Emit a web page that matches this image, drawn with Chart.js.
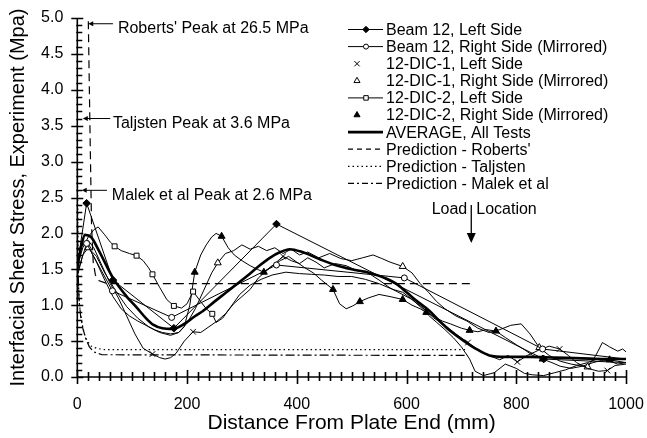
<!DOCTYPE html>
<html>
<head>
<meta charset="utf-8">
<script src="https://cdn.jsdelivr.net/npm/chart.js@4.4.1/dist/chart.umd.min.js"></script>
<style>
  html, body { margin: 0; padding: 0; background: #fff; }
  #wrap { width: 647px; height: 438px; }
</style>
</head>
<body>
<div id="wrap"><canvas id="myChart" width="647" height="438"></canvas></div>
<script>
// distance from plate end (mm) / interfacial shear stress (MPa)
const beam12LeftX = [0, 17, 65, 176, 363, 850, 1000];
const beam12LeftY = [1.55, 2.42, 1.35, 0.68, 2.13, 0.25, 0.2];
const beam12LeftMarks = [17, 65, 176, 363, 850];

const beam12RightX = [0, 17, 64, 172, 363, 596, 848, 1000];
const beam12RightY = [1.45, 1.86, 1.2, 0.83, 1.56, 1.38, 0.39, 0.25];
const beam12RightMarks = [17, 64, 172, 363, 596, 848];

const dic1LeftX = [0, 10, 20, 30, 45, 60, 75, 90, 105, 120, 137, 150, 160, 170, 180, 195, 211, 225, 240, 255,
  270, 285, 300, 315, 330, 345, 360, 375, 390, 405, 420, 435, 450, 470, 490, 510, 530, 550, 570, 590,
  610, 630, 650, 670, 690, 712, 730, 750, 770, 785, 802, 820, 840, 860, 879, 895, 910, 930, 950, 966, 980, 1000];
const dic1LeftY = [1.65, 1.85, 1.9, 1.8, 1.55, 1.3, 1.1, 0.85, 0.6, 0.4, 0.32, 0.27, 0.25, 0.27, 0.33, 0.5, 0.63, 0.62, 0.7, 0.78,
  0.88, 1.02, 1.12, 1.22, 1.38, 1.48, 1.58, 1.68, 1.62, 1.58, 1.66, 1.6, 1.52, 1.58, 1.55, 1.48, 1.45, 1.35, 1.24, 1.16,
  1.08, 0.96, 0.82, 0.72, 0.6, 0.48, 0.38, 0.3, 0.24, 0.3, 0.21, 0.3, 0.37, 0.43, 0.39, 0.3, 0.2, 0.12, 0.08, 0.09, 0.16, 0.18];
const dic1LeftMarks = [137, 211, 375, 712, 802, 879, 966];

const dic1RightX = [0, 10, 20, 35, 50, 70, 90, 110, 130, 150, 170, 185, 200, 215, 230, 245, 256, 270, 285, 300,
  315, 330, 345, 360, 375, 390, 405, 420, 440, 460, 480, 500, 520, 539, 555, 570, 593, 610, 625, 640,
  655, 670, 690, 710, 730, 750, 770, 790, 809, 825, 842, 860, 880, 900, 915, 930, 945, 957, 970, 985, 994, 1000];
const dic1RightY = [1.4, 1.7, 1.8, 1.68, 1.45, 1.2, 0.98, 0.82, 0.7, 0.62, 0.58, 0.62, 0.75, 0.95, 1.2, 1.45, 1.59, 1.72, 1.76, 1.84,
  1.78, 1.82, 1.76, 1.8, 1.72, 1.78, 1.7, 1.74, 1.66, 1.72, 1.65, 1.62, 1.66, 1.7, 1.65, 1.6, 1.54, 1.45, 1.3, 1.18,
  1.05, 0.95, 0.85, 0.78, 0.68, 0.62, 0.66, 0.72, 0.74, 0.6, 0.41, 0.3, 0.22, 0.18, 0.16, 0.14, 0.3, 0.48, 0.42, 0.36, 0.39, 0.35];
const dic1RightMarks = [20, 256, 593, 842, 930];

const dic2LeftX = [0, 10, 20, 30, 38, 50, 60, 68, 80, 95, 108, 120, 130, 137, 150, 163, 176, 190, 200, 211,
  222, 235, 246, 253, 265, 280, 296, 315, 335, 355, 380, 405, 427, 450, 475, 500, 525, 550, 575, 593,
  610, 625, 640, 655, 670, 685, 700, 715, 725, 740, 760, 780, 800, 815, 830, 850, 870, 890, 910, 930, 950, 970, 985, 1000];
const dic2LeftY = [1.55, 1.8, 1.95, 2.05, 2.09, 1.98, 1.88, 1.82, 1.76, 1.72, 1.69, 1.62, 1.52, 1.43, 1.25, 1.08, 0.99, 0.96, 1.02, 1.19,
  1.08, 0.95, 0.88, 0.76, 0.82, 0.98, 1.15, 1.28, 1.36, 1.42, 1.46, 1.44, 1.43, 1.42, 1.4, 1.4, 1.36, 1.3, 1.22, 1.18,
  1.08, 0.98, 0.86, 0.76, 0.66, 0.55, 0.42, 0.25, 0.08, 0.02, 0.06, 0.18, 0.12, 0.05, 0.03, 0.02, 0.06, 0.1, 0.16, 0.2, 0.26, 0.22, 0.18, 0.2];
const dic2LeftMarks = [68, 108, 137, 176, 211, 246];

const dic2RightX = [0, 10, 20, 35, 50, 65, 80, 95, 110, 125, 140, 155, 170, 185, 195, 205, 214, 225, 235, 245,
  253, 263, 275, 286, 300, 315, 328, 340, 355, 370, 385, 400, 415, 430, 445, 466, 478, 490, 502, 515,
  530, 550, 570, 593, 610, 625, 636, 650, 665, 680, 700, 715, 730, 745, 763, 780, 800, 815, 830, 848,
  865, 880, 900, 920, 940, 955, 970, 985, 1000];
const dic2RightY = [1.75, 1.85, 1.82, 1.6, 1.35, 1.12, 0.95, 0.85, 0.78, 0.72, 0.66, 0.62, 0.6, 0.62, 0.7, 1.0, 1.46, 1.7, 1.84, 1.95,
  2.0, 1.96, 1.8, 1.7, 1.62, 1.55, 1.5, 1.46, 1.55, 1.62, 1.68, 1.6, 1.52, 1.45, 1.35, 1.22, 1.02, 0.95, 0.99, 1.05,
  1.1, 1.15, 1.12, 1.08, 1.0, 0.95, 0.9, 0.84, 0.78, 0.74, 0.68, 0.65, 0.63, 0.66, 0.64, 0.55, 0.45, 0.38, 0.3, 0.25,
  0.2, 0.15, 0.12, 0.15, 0.2, 0.23, 0.24, 0.22, 0.2];
const dic2RightMarks = [214, 263, 340, 466, 515, 593, 636, 715, 763, 848, 970];

const averageX = [0, 8, 14, 25, 40, 65, 90, 108, 125, 138, 155, 174, 195, 215, 229, 250, 270, 290, 310, 330,
  351, 370, 387, 410, 442, 470, 500, 533, 560, 581, 600, 620, 642, 660, 680, 703, 725, 751, 780, 824, 870, 920, 960, 1000];
const averageY = [1.52, 1.85, 1.98, 1.95, 1.75, 1.38, 1.12, 0.97, 0.82, 0.73, 0.68, 0.67, 0.74, 0.85, 0.92, 1.05, 1.17, 1.29, 1.41, 1.54,
  1.66, 1.74, 1.78, 1.74, 1.64, 1.56, 1.5, 1.45, 1.38, 1.3, 1.18, 1.05, 0.92, 0.78, 0.64, 0.51, 0.4, 0.3, 0.28, 0.28, 0.27, 0.26, 0.25, 0.25];

const robertsX = [18, 20, 23, 26, 29, 33, 40, 55, 718];
const robertsY = [26.5, 5.0, 3.5, 2.1, 1.6, 1.42, 1.34, 1.3, 1.3];

const taljstenX = [0, 1, 2, 4, 8, 12, 18, 25, 35, 50, 710];
const taljstenY = [3.6, 2.0, 1.3, 1.0, 0.78, 0.62, 0.5, 0.43, 0.4, 0.38, 0.38];

const malekX = [0, 1, 3, 6, 10, 16, 22, 30, 45, 712];
const malekY = [2.6, 1.6, 1.1, 0.85, 0.68, 0.52, 0.42, 0.35, 0.31, 0.3];

const seriesNames = ["Beam 12, Left Side", "Beam 12, Right Side (Mirrored)", "12-DIC-1, Left Side",
  "12-DIC-1, Right Side (Mirrored)", "12-DIC-2, Left Side", "12-DIC-2, Right Side (Mirrored)",
  "AVERAGE, All Tests", "Prediction - Roberts'", "Prediction - Taljsten", "Prediction - Malek et al"];

const xTicks = [0, 200, 400, 600, 800, 1000];
const loadLocation = 718;

const FONT = '"Liberation Sans", Arial, Helvetica, sans-serif';

function toPoints(xs, ys) {
  return xs.map((x, i) => ({ x: x, y: ys[i] }));
}

function markAt(xs, marks, r) {
  return ctx => (marks.includes(xs[ctx.dataIndex]) ? r : 0);
}

function lineSet(label, xs, ys, extra) {
  return Object.assign({
    label: label,
    data: toPoints(xs, ys),
    borderColor: "#000",
    backgroundColor: "#000",
    borderWidth: 1,
    pointRadius: 0,
    pointBorderWidth: 1,
    pointBorderColor: "#000",
    tension: 0,
    legendLine: true,
  }, extra);
}

function drawMarker(ctx, style, fill, x, y, r) {
  ctx.save();
  ctx.lineWidth = 1;
  ctx.strokeStyle = "#000";
  ctx.fillStyle = fill;
  ctx.beginPath();
  if (style === "rectRot") {
    ctx.moveTo(x, y - r); ctx.lineTo(x + r, y); ctx.lineTo(x, y + r); ctx.lineTo(x - r, y); ctx.closePath();
    ctx.fill(); ctx.stroke();
  } else if (style === "circle") {
    ctx.arc(x, y, r, 0, Math.PI * 2);
    ctx.fill(); ctx.stroke();
  } else if (style === "crossRot") {
    const d = r * 0.75;
    ctx.moveTo(x - d, y - d); ctx.lineTo(x + d, y + d);
    ctx.moveTo(x + d, y - d); ctx.lineTo(x - d, y + d);
    ctx.stroke();
  } else if (style === "triangle") {
    ctx.moveTo(x, y - r); ctx.lineTo(x + r * 0.87, y + r * 0.5); ctx.lineTo(x - r * 0.87, y + r * 0.5); ctx.closePath();
    ctx.fill(); ctx.stroke();
  } else if (style === "rect") {
    ctx.rect(x - r * 0.75, y - r * 0.75, r * 1.5, r * 1.5);
    ctx.fill(); ctx.stroke();
  }
  ctx.restore();
}

const axisTicks = {
  id: "axisTicks",
  afterDraw(chart) {
    const ctx = chart.ctx;
    const xs = chart.scales.x, ys = chart.scales.y;
    const left = xs.left, bottom = ys.bottom;
    ctx.save();
    ctx.strokeStyle = "#000";
    ctx.lineWidth = 1.6;
    ctx.beginPath();
    ctx.moveTo(left, ys.top); ctx.lineTo(left, bottom); ctx.lineTo(xs.right, bottom);
    ctx.stroke();
    ctx.lineWidth = 1.6;
    ctx.beginPath();
    for (let v = 0; v <= 1000; v += 20) {
      const p = Math.round(xs.getPixelForValue(v)) + 0.5;
      const major = v % 200 === 0;
      ctx.moveTo(p, bottom - (major ? 7 : 5));
      ctx.lineTo(p, bottom + (major ? 7 : 4));
    }
    for (let i = 0; i <= 50; i++) {
      const p = Math.round(ys.getPixelForValue(i / 10)) + 0.5;
      const major = i % 5 === 0;
      ctx.moveTo(left - (major ? 6 : 1), p);
      ctx.lineTo(left + (major ? 6 : 5), p);
    }
    ctx.stroke();
    ctx.restore();
  }
};

function arrowLeft(ctx, x1, x2, y) {
  ctx.beginPath();
  ctx.moveTo(x1, y); ctx.lineTo(x2 + 3, y);
  ctx.stroke();
  ctx.beginPath();
  ctx.moveTo(x2, y); ctx.lineTo(x2 + 5, y - 2.5); ctx.lineTo(x2 + 5, y + 2.5); ctx.closePath();
  ctx.fill();
}

const notes = {
  id: "notes",
  afterDraw(chart) {
    const ctx = chart.ctx;
    const xs = chart.scales.x, ys = chart.scales.y;
    const X = v => xs.getPixelForValue(v), Y = v => ys.getPixelForValue(v);
    ctx.save();
    ctx.fillStyle = "#000";
    ctx.strokeStyle = "#000";
    ctx.lineWidth = 1;
    ctx.font = "16px " + FONT;
    ctx.textBaseline = "middle";
    ctx.textAlign = "left";
    const peaks = [
      ["Roberts' Peak at 26.5 MPa", 4.92, 20, 65, 74],
      ["Taljsten Peak at 3.6 MPa", 3.6, 10, 60, 65],
      ["Malek et al Peak at 2.6 MPa", 2.6, 8, 54, 63],
    ];
    peaks.forEach(p => {
      const y = Y(p[1]);
      arrowLeft(ctx, X(p[3]), X(p[2]), y);
      ctx.fillText(p[0], X(p[4]), y + 5);
    });
    // load location arrow
    const lx = X(loadLocation);
    const ly = 210;
    ctx.textAlign = "right";
    ctx.fillText("Load", lx - 4, ly);
    ctx.textAlign = "left";
    ctx.fillText("Location", lx + 5, ly);
    ctx.lineWidth = 1.3;
    ctx.beginPath();
    ctx.moveTo(lx, ly - 5); ctx.lineTo(lx, 235);
    ctx.stroke();
    ctx.beginPath();
    ctx.moveTo(lx, 243); ctx.lineTo(lx - 4.5, 233); ctx.lineTo(lx + 4.5, 233); ctx.closePath();
    ctx.fill();
    ctx.restore();
  }
};

const legendBox = {
  id: "legendBox",
  afterDraw(chart) {
    const ctx = chart.ctx;
    ctx.save();
    ctx.font = "16px " + FONT;
    ctx.fillStyle = "#000";
    ctx.textBaseline = "middle";
    chart.data.datasets.forEach((ds, i) => {
      const y = 29.5 + i * 17.1;
      if (ds.legendLine) {
        ctx.save();
        ctx.strokeStyle = "#000";
        ctx.lineWidth = ds.borderWidth;
        ctx.setLineDash(ds.legendDash || ds.borderDash || []);
        ctx.beginPath();
        ctx.moveTo(348, y); ctx.lineTo(383, y);
        ctx.stroke();
        ctx.restore();
        if (ds.pointStyle && ds.legendMark) drawMarker(ctx, ds.pointStyle, ds.backgroundColor, 366, y, ds.legendMark);
      } else {
        drawMarker(ctx, ds.pointStyle, ds.backgroundColor, 357, y, ds.legendMark);
      }
      ctx.fillText(ds.label, 386, y + 1);
    });
    ctx.restore();
  }
};

const ctx = document.getElementById("myChart");

new Chart(ctx, {
  type: "line",
  data: {
    datasets: [
      lineSet(seriesNames[0], beam12LeftX, beam12LeftY, {
        pointStyle: "rectRot", pointRadius: markAt(beam12LeftX, beam12LeftMarks, 3.8), legendMark: 3.2,
      }),
      lineSet(seriesNames[1], beam12RightX, beam12RightY, {
        pointStyle: "circle", backgroundColor: "#fff", pointRadius: markAt(beam12RightX, beam12RightMarks, 3), legendMark: 2.5,
      }),
      lineSet(seriesNames[2], dic1LeftX, dic1LeftY, {
        pointStyle: "crossRot", pointRadius: markAt(dic1LeftX, dic1LeftMarks, 4), legendLine: false, legendMark: 3.5,
      }),
      lineSet(seriesNames[3], dic1RightX, dic1RightY, {
        pointStyle: "triangle", backgroundColor: "#fff", pointRadius: markAt(dic1RightX, dic1RightMarks, 4), legendLine: false, legendMark: 3.5,
      }),
      lineSet(seriesNames[4], dic2LeftX, dic2LeftY, {
        pointStyle: "rect", backgroundColor: "#fff", pointRadius: markAt(dic2LeftX, dic2LeftMarks, 3.5), legendMark: 3,
      }),
      lineSet(seriesNames[5], dic2RightX, dic2RightY, {
        pointStyle: "triangle", pointRadius: markAt(dic2RightX, dic2RightMarks, 4), legendLine: false, legendMark: 3.5,
      }),
      lineSet(seriesNames[6], averageX, averageY, {
        borderWidth: 2.6, cubicInterpolationMode: "monotone",
      }),
      lineSet(seriesNames[7], robertsX, robertsY, {
        borderWidth: 1.2, borderDash: [8, 5], legendDash: [5, 4],
      }),
      lineSet(seriesNames[8], taljstenX, taljstenY, {
        borderWidth: 1.2, borderDash: [1.5, 3],
      }),
      lineSet(seriesNames[9], malekX, malekY, {
        borderWidth: 1.2, borderDash: [9, 3, 2, 3], legendDash: [6, 3, 2, 3],
      }),
    ],
  },
  options: {
    responsive: false,
    animation: false,
    events: [],
    layout: {
      padding: { left: 0, right: 21, top: 18, bottom: 0 },
    },
    scales: {
      x: {
        type: "linear",
        min: 0,
        max: 1000,
        afterBuildTicks: scale => { scale.ticks = xTicks.map(v => ({ value: v })); },
        afterFit: scale => {
          scale.height = 61;
          scale.paddingLeft = 0;
          scale.paddingRight = 0;
        },
        grid: { display: false, drawTicks: false },
        border: { display: false },
        ticks: {
          color: "#000",
          font: { size: 16, family: FONT },
          padding: 18,
          maxRotation: 0,
          callback: v => String(v),
        },
        title: {
          display: true,
          text: "Distance From Plate End (mm)",
          color: "#000",
          font: { size: 21, family: FONT },
          padding: { top: 0, bottom: 2 },
        },
      },
      y: {
        min: 0,
        max: 5,
        afterFit: scale => {
          scale.width = 77.3;
          scale.paddingTop = 0;
          scale.paddingBottom = 0;
        },
        grid: { display: false, drawTicks: false },
        border: { display: false },
        ticks: {
          stepSize: 0.5,
          color: "#000",
          font: { size: 16, family: FONT },
          padding: 14,
          callback: v => v.toFixed(1),
        },
        title: {
          display: true,
          text: "Interfacial Shear Stress, Experiment (Mpa)",
          color: "#000",
          font: { size: 20, family: FONT },
          padding: { top: 6, bottom: 0 },
        },
      },
    },
    plugins: {
      legend: { display: false },
      tooltip: { enabled: false },
    },
  },
  plugins: [axisTicks, notes, legendBox],
});
</script>
</body>
</html>
